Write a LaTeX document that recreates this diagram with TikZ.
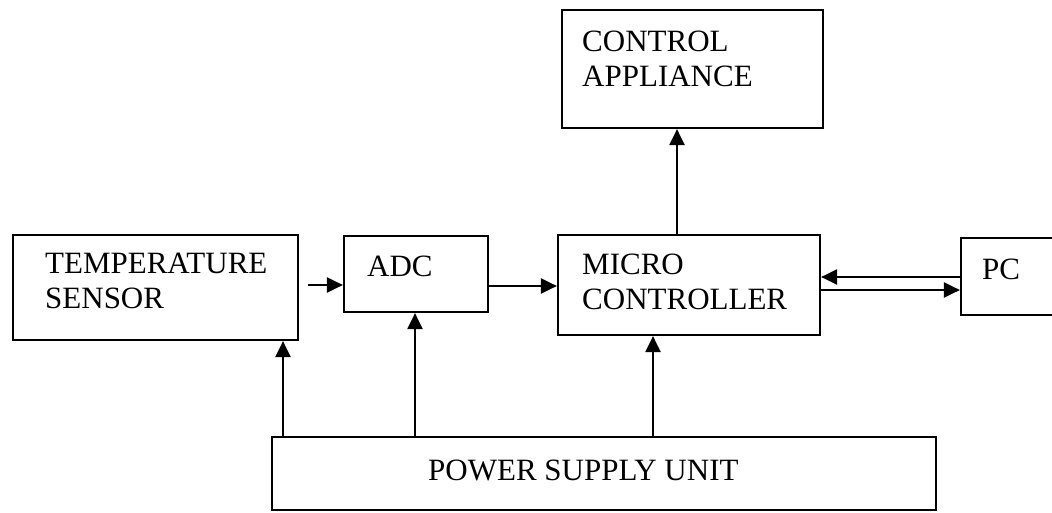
\documentclass[tikz,border=0pt]{standalone}
\usepackage{fontspec}
\setmainfont{Liberation Serif}
\usetikzlibrary{arrows.meta,calc}
\begin{document}
\begin{tikzpicture}[x=1pt,y=-1pt,
  blk/.style={draw=black,line width=2.2pt,inner sep=0pt,rectangle},
  lbl/.style={inner sep=0pt,anchor=west,align=left,font=\fontsize{31}{35}\selectfont},
  arr/.style={line width=2.2pt,-{Triangle[length=16pt,width=15pt]}}]
\path[use as bounding box,clip] (0,0) rectangle (1052,513);
\fill[white] (0,0) rectangle (1052,513);
% boxes
\node[blk,minimum width=285pt,minimum height=105pt] (ts) at (155.5,287.5) {};
\node[blk,minimum width=144pt,minimum height=76pt] (adc) at (416,274) {};
\node[blk,minimum width=262pt,minimum height=100pt] (mc) at (689,285) {};
\node[blk,minimum width=118pt,minimum height=77pt] (pc) at (1020,276.5) {};
\node[blk,minimum width=261pt,minimum height=118pt] (ca) at (692.5,69) {};
\node[blk,minimum width=664pt,minimum height=73pt] (psu) at (604,473.5) {};
% labels
\node[lbl] (tsl) at (45,280.5) {TEMPERATURE\\SENSOR};
\node[lbl] (adcl) at (367,266) {ADC};
\node[lbl] (mcl) at (582,281.5) {MICRO\\CONTROLLER};
\node[lbl] (pcl) at (982,269) {PC};
\node[lbl] (cal) at (582,59) {CONTROL\\APPLIANCE};
\node[lbl] (psul) at (428,470) {POWER SUPPLY UNIT};
% connectors
\draw[arr] ($(ts.east |- 0,285)+(9,0)$) -- (adc.west |- 0,285);
\draw[arr] (adc.east |- 0,286) -- (mc.west |- 0,286);
\draw[arr] (mc.north -| 677,0) -- (ca.south -| 677,0);
\draw[arr] (pc.west |- 0,277) -- (mc.east |- 0,277);
\draw[arr] (mc.east |- 0,290) -- (pc.west |- 0,290);
\draw[arr] (psu.north -| 283,0) -- (ts.south -| 283,0);
\draw[arr] (psu.north -| 415,0) -- (adc.south -| 415,0);
\draw[arr] (psu.north -| 653,0) -- (mc.south -| 653,0);
\end{tikzpicture}
\end{document}
